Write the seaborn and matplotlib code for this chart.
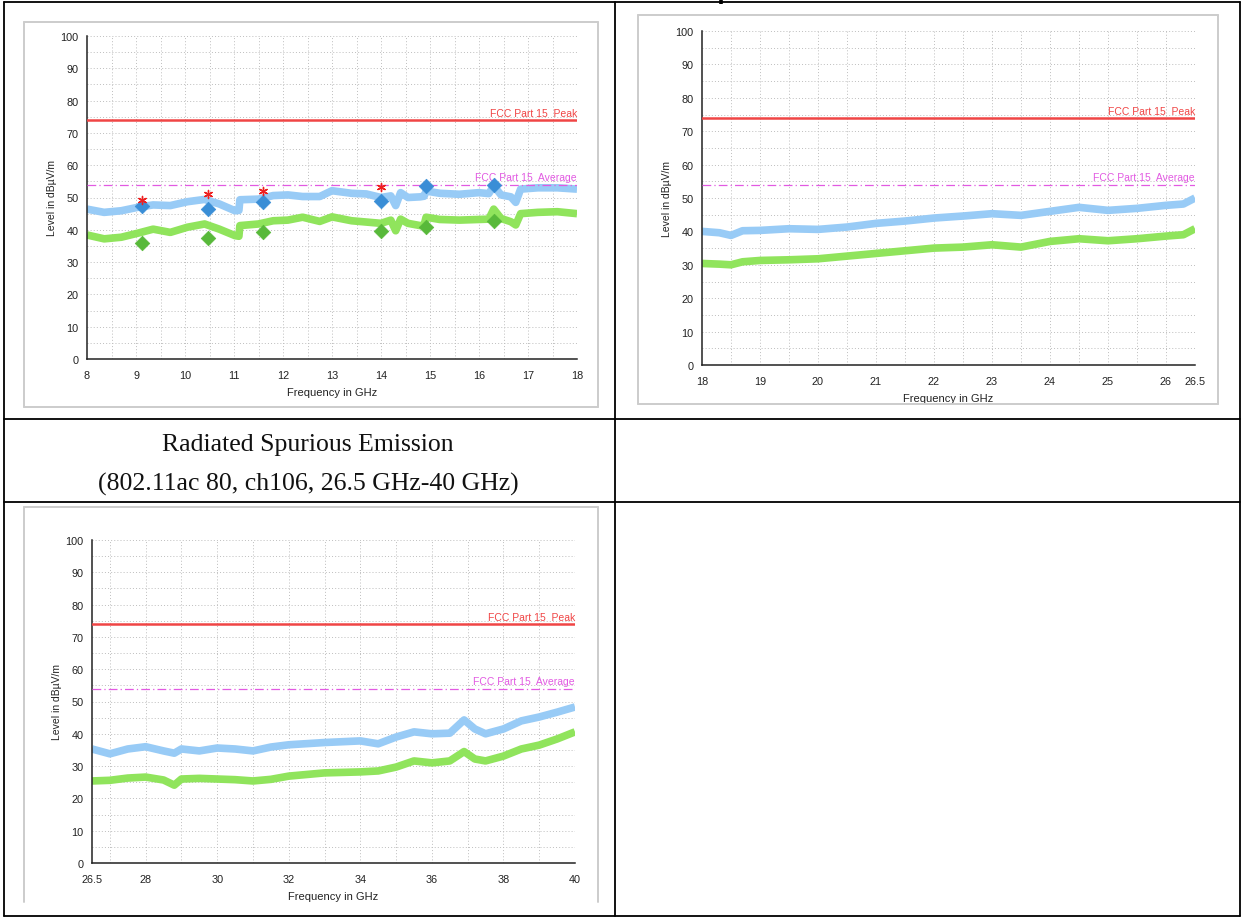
import numpy as np
import pandas as pd
import matplotlib
matplotlib.use("Agg")
import matplotlib.pyplot as plt
import seaborn as sns
from matplotlib.lines import Line2D
from matplotlib.ticker import FixedLocator, MultipleLocator

# ---------------- data ----------------
# 8-18 GHz panel
tl_freq = [8.0, 8.35, 8.7, 9.05, 9.35, 9.7, 10.05, 10.4, 10.7, 11.02,
           11.1, 11.12, 11.5, 11.8, 12.1, 12.4, 12.75, 13.0, 13.4, 13.7,
           14.0, 14.2, 14.3, 14.4, 14.55, 14.8, 14.88, 14.92, 15.2, 15.6,
           16.0, 16.2, 16.3, 16.45, 16.65, 16.75, 16.85, 17.2, 17.6, 18.0]
tl_peak = [46.4, 45.4, 45.9, 47.0, 47.7, 47.5, 48.7, 49.4, 48.0, 45.9,
           46.0, 49.3, 49.5, 50.6, 50.8, 50.3, 50.3, 52.1, 51.3, 51.1,
           50.0, 50.5, 47.5, 51.5, 50.0, 50.2, 50.4, 52.0, 51.3, 51.0,
           51.5, 51.2, 53.6, 50.8, 50.2, 48.5, 52.6, 53.0, 53.0, 52.6]
tl_avg = [38.4, 37.2, 37.7, 39.0, 40.2, 39.2, 40.8, 41.8, 40.2, 38.2,
          38.0, 41.3, 41.8, 42.8, 43.0, 43.9, 42.6, 44.0, 42.8, 42.4,
          42.0, 43.0, 39.7, 43.3, 42.0, 41.3, 41.5, 43.9, 43.2, 43.0,
          43.2, 43.3, 46.4, 43.5, 42.5, 41.5, 45.0, 45.4, 45.6, 45.0]
final_freq = [9.13, 10.47, 11.6, 14.0, 14.92, 16.3]
final_peak = [47.3, 46.4, 48.7, 49.0, 53.6, 53.8]
final_avg = [35.8, 37.4, 39.4, 39.7, 41.0, 42.6]
pre_freq = [9.13, 10.47, 11.6, 14.0]
pre_peak = [49.2, 51.0, 52.1, 53.4]

# 18-26.5 GHz panel
tr_freq = [18.0, 18.3, 18.5, 18.7, 19.0, 19.5, 20.0, 20.5, 21.0, 21.5, 22.0,
           22.5, 23.0, 23.5, 24.0, 24.5, 25.0, 25.5, 26.0, 26.3, 26.5]
tr_peak = [40.0, 39.6, 38.8, 40.2, 40.3, 40.8, 40.6, 41.3, 42.4, 43.1, 44.0,
           44.6, 45.3, 44.8, 46.0, 47.2, 46.3, 46.9, 47.8, 48.2, 50.0]
tr_avg = [30.4, 30.2, 30.0, 30.9, 31.3, 31.5, 31.8, 32.6, 33.4, 34.2, 35.0,
          35.3, 36.0, 35.3, 37.0, 37.8, 37.2, 37.8, 38.6, 39.0, 40.8]

# 26.5-40 GHz panel
bl_freq = [26.5, 27.0, 27.5, 28.0, 28.5, 28.8, 29.0, 29.5, 30.0, 30.5,
           31.0, 31.5, 32.0, 33.0, 34.0, 34.5, 35.0, 35.5, 36.0, 36.5,
           36.9, 37.2, 37.5, 38.0, 38.5, 39.0, 39.5, 40.0]
bl_peak = [35.3, 33.8, 35.3, 36.0, 34.7, 34.0, 35.3, 34.7, 35.6, 35.3,
           34.7, 35.9, 36.6, 37.3, 37.8, 36.9, 39.0, 40.6, 40.0, 40.2,
           44.3, 41.5, 40.0, 41.5, 44.0, 45.2, 46.7, 48.3]
bl_avg = [25.4, 25.6, 26.3, 26.6, 25.7, 24.1, 26.0, 26.2, 26.0, 25.8,
          25.4, 25.9, 26.9, 27.9, 28.2, 28.5, 29.7, 31.6, 31.0, 31.6,
          34.5, 32.2, 31.6, 33.1, 35.3, 36.5, 38.4, 40.6]

peak_limit = 74
avg_limit = 54
peak_label = "FCC Part 15  Peak"
avg_label_a = "FCC Part 15  Average"
avg_label_b = "FCC Part.15  Average"
x_title = "Frequency in GHz"
y_title = "Level in dBµV/m"
caption_1 = "Radiated Spurious Emission"
caption_2 = "(802.11ac 80, ch106, 26.5 GHz-40 GHz)"

tl_ticks = [8, 9, 10, 11, 12, 13, 14, 15, 16, 17, 18]
tr_ticks = [18, 19, 20, 21, 22, 23, 24, 25, 26, 26.5]
bl_ticks = [26.5, 28, 30, 32, 34, 36, 38, 40]

# ---------------- styling ----------------
sns.set_theme(style="white")
plt.rcParams['font.family'] = ['Liberation Sans', 'DejaVu Sans']

W, H = 1243, 920
C_PK = '#98cbf6'
C_AV = '#90e45c'
C_PKM = '#3a8ed6'
C_AVM = '#58b93a'
C_RED = '#f04545'
C_MAG = '#e25ae2'
C_GRID = '#bdbdbd'

fig = plt.figure(figsize=(W / 100, H / 100), dpi=100)
fig.patch.set_facecolor('white')


def fx(px):
    return px / W


def fy(py):
    return 1 - py / H


def fline(xs, ys, **kw):
    fig.add_artist(Line2D([fx(v) for v in xs], [fy(v) for v in ys],
                          transform=fig.transFigure, **kw))


def frame(x0, y0, x1, y1, bottom=True):
    kw = dict(color='#cccccc', lw=1.4)
    fline([x0, x0], [y0, y1], **kw)
    fline([x1, x1], [y0, y1], **kw)
    fline([x0, x1], [y0, y0], **kw)
    if bottom:
        fline([x0, x1], [y1, y1], **kw)


def panel(px, xlim, majors, minors, grid_x, traces, avg_text):
    x0, x1, ytop, ybot = px
    ax = fig.add_axes([fx(x0), fy(ybot), fx(x1) - fx(x0), fy(ytop) - fy(ybot)])
    ax.set_facecolor('white')
    ax.set_xlim(*xlim)
    ax.set_ylim(0, 100)
    for s in ['top', 'right']:
        ax.spines[s].set_visible(False)
    for s in ['left', 'bottom']:
        ax.spines[s].set_color('#222222')
        ax.spines[s].set_linewidth(1.1)
    ax.xaxis.set_major_locator(FixedLocator(majors))
    ax.set_xticklabels([('%g' % v) for v in majors])
    ax.xaxis.set_minor_locator(FixedLocator(minors))
    ax.yaxis.set_major_locator(MultipleLocator(10))
    ax.yaxis.set_minor_locator(MultipleLocator(5))
    ax.tick_params(which='major', direction='inout', length=7, width=1.0,
                   color='#222222', labelsize=7.8, labelcolor='#222222')
    ax.tick_params(axis='x', which='major', pad=4.5)
    ax.tick_params(axis='y', which='major', pad=2.5)
    ax.tick_params(which='minor', direction='inout', length=6, width=1.0,
                   color='#222222')
    # dotted grid
    for gx in grid_x:
        ax.axvline(gx, color=C_GRID, lw=0.7, ls=(0, (1, 2.2)), zorder=0)
    for gy in range(5, 101, 5):
        ax.axhline(gy, color=C_GRID, lw=0.7, ls=(0, (1, 2.2)), zorder=0)
    # traces
    for f, v, c in traces:
        sns.lineplot(x=f, y=v, ax=ax, color=c, lw=5.5, estimator=None,
                     sort=False, solid_joinstyle='round',
                     solid_capstyle='butt', zorder=2)
    # limit lines
    ax.axhline(peak_limit, color=C_RED, lw=1.8, zorder=3)
    ax.axhline(avg_limit, color=C_MAG, lw=0.9, ls=(0, (7, 2.5, 1, 2.5)), zorder=3)
    ax.text(xlim[1], peak_limit + 0.7, peak_label, ha='right', va='bottom',
            color=C_RED, fontsize=7.5, zorder=4)
    ax.text(xlim[1], avg_limit + 0.7, avg_text, ha='right', va='bottom',
            color=C_MAG, fontsize=7.5, zorder=4)
    ax.set_xlabel(x_title, fontsize=8, color='#222222')
    ax.set_ylabel(y_title, fontsize=7.5, color='#222222')
    w = x1 - x0
    h = ybot - ytop
    ax.xaxis.set_label_coords(0.5, -33.0 / h)
    ax.xaxis.label.set_va('center')
    ax.yaxis.set_label_coords(-35.0 / w, 0.5)
    ax.yaxis.label.set_va('center')
    return ax


# ---------------- table lines ----------------
tk = dict(color='black', lw=1.3)
fline([4, 1240], [3, 3], **tk)
fline([4, 1240], [420, 420], **tk)
fline([4, 1240], [503, 503], **tk)
fline([4, 1240], [917, 917], **tk)
fline([4, 4], [3, 917], **tk)
fline([615, 615], [3, 917], **tk)
fline([1240, 1240], [3, 917], **tk)

# fragment of a glyph from the page above, cut by the top edge
fline([721, 721], [0, 5], color='black', lw=2.6, solid_capstyle='butt')

# chart frames
frame(24, 23, 598, 408)
frame(638, 16, 1218, 405)
frame(24, 508, 598, 903, bottom=False)

# ---------------- panels ----------------
ax1 = panel((87, 577, 37, 360), (8, 18), tl_ticks,
            [v + 0.5 for v in tl_ticks[:-1]],
            [v / 2 for v in range(17, 36)],
            [(tl_freq, tl_peak, C_PK), (tl_freq, tl_avg, C_AV)], avg_label_a)
sns.scatterplot(x=final_freq, y=final_peak, ax=ax1, marker='D', s=55,
                color=C_PKM, edgecolor=C_PKM, linewidth=0.5, zorder=5)
sns.scatterplot(x=final_freq, y=final_avg, ax=ax1, marker='D', s=55,
                color=C_AVM, edgecolor=C_AVM, linewidth=0.5, zorder=5)
sns.scatterplot(x=pre_freq, y=pre_peak, ax=ax1, marker=(6, 2, 0), s=34,
                color='#ee2020', linewidth=1.0, zorder=6)

ax2 = panel((702, 1195, 32, 366), (18, 26.5), tr_ticks,
            [v + 0.5 for v in range(18, 26)],
            [v / 2 for v in range(37, 53)],
            [(tr_freq, tr_peak, C_PK), (tr_freq, tr_avg, C_AV)], avg_label_b)

ax3 = panel((92, 575, 541, 864), (26.5, 40), bl_ticks,
            [27, 29, 31, 33, 35, 37, 39],
            list(range(27, 40)),
            [(bl_freq, bl_peak, C_PK), (bl_freq, bl_avg, C_AV)], avg_label_a)

# ---------------- caption cell ----------------
serif = ['Liberation Serif', 'DejaVu Serif']
fig.text(fx(308), fy(445), caption_1, ha='center', va='center',
         fontsize=18.5, family=serif, color='#111111')
fig.text(fx(308), fy(484), caption_2, ha='center', va='center',
         fontsize=18.5, family=serif, color='#111111')

fig.savefig('out.png', dpi=100, facecolor='white')
